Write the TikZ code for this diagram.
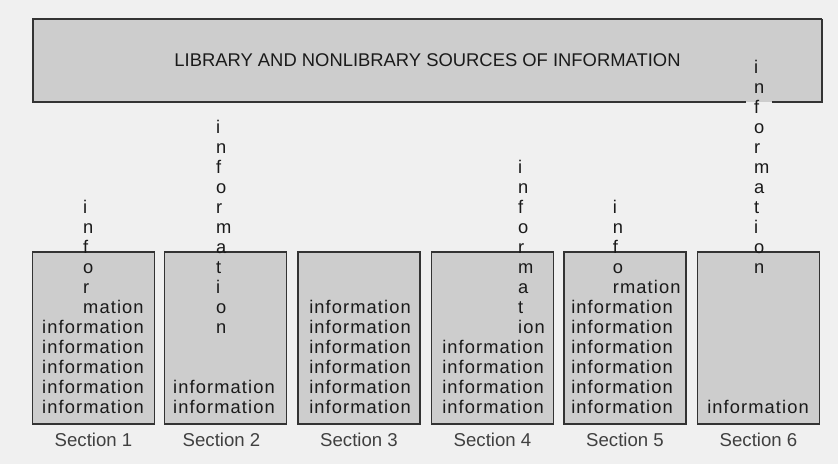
\documentclass[tikz,border=0pt]{standalone}
\usepackage{fontspec}
\setmainfont{Liberation Sans}
\newfontfamily\infofont[LetterSpace=6]{Liberation Sans}
\usetikzlibrary{positioning}
\definecolor{paper}{HTML}{F0F0F0}
\definecolor{shelf}{HTML}{CDCDCD}
\definecolor{rim}{HTML}{333333}
\definecolor{ink}{HTML}{1A1A1A}
\definecolor{caption}{HTML}{404040}
\tikzset{
  topbox/.style={
    fill=shelf,
    minimum width=789pt,
    minimum height=83pt,
    inner sep=0pt,
    font=\fontsize{18.4}{20}\selectfont,
    text=ink
  },
  rimline/.style={draw=rim, line width=1.5pt},
  secbox/.style={
    draw=rim,
    fill=shelf,
    line width=1.5pt,
    minimum width=122pt,
    minimum height=172pt,
    inner sep=0pt
  },
  inforow/.style={font=\infofont\fontsize{18.3}{20}\selectfont, text=ink, inner sep=0pt, anchor=base},
  stackletter/.style={inforow, anchor=base west},
  seclabel/.style={font=\fontsize{18.6}{20}\selectfont, text=caption, inner sep=0pt, anchor=base}
}
% full rows, counted from the bottom of a section
\newcommand{\inforows}[3]{%
  \foreach \k in {1,...,#3} {
    \node[inforow] (#1r\k) at (#2,{433-20*\k}) {information};
  }
}
% falling word: rest of the row, then its letters upwards
\newcommand{\infostack}[4]{%
  \foreach \ch [count=\i from #3] in {#4} {
    \node[stackletter] (#1c\i) at (#2,{433-20*\i}) {\ch};
  }
}

\begin{document}
\begin{tikzpicture}[x=1pt,y=-1pt]
\useasboundingbox (0,0) rectangle (838,464);
\fill[paper] (0,0) rectangle (838,464);

\node[topbox] (sources) at (427.5,60.5) {LIBRARY AND NONLIBRARY SOURCES OF INFORMATION};
\coordinate (gapL) at (746,102);
\coordinate (gapR) at (772,102);
\draw[rimline] (gapL) -| (sources.north west) -- (sources.north east);
\draw[rimline] (sources.north east) |- (gapR);

\node[secbox] (sec1) at (93.5,338) {};
\node[secbox] (sec2) at (225.5,338) {};
\node[secbox] (sec3) at (359,338) {};
\node[secbox] (sec4) at (492.5,338) {};
\node[secbox] (sec5) at (625,338) {};
\node[secbox] (sec6) at (758.5,338) {};

\node[seclabel] (lab1) at ([yshift=-21.7pt]sec1.south) {Section 1};
\node[seclabel] (lab2) at ([xshift=-4pt,yshift=-21.7pt]sec2.south) {Section 2};
\node[seclabel] (lab3) at ([yshift=-21.7pt]sec3.south) {Section 3};
\node[seclabel] (lab4) at ([yshift=-21.7pt]sec4.south) {Section 4};
\node[seclabel] (lab5) at ([yshift=-21.7pt]sec5.south) {Section 5};
\node[seclabel] (lab6) at ([yshift=-21.7pt]sec6.south) {Section 6};

\inforows{s1}{93}{5}
\infostack{s1}{83}{6}{mation,r,o,f,n,i}

\inforows{s2}{224}{2}
\infostack{s2}{216}{5}{n,o,i,t,a,m,r,o,f,n,i}

\inforows{s3}{360}{6}

\inforows{s4}{493}{4}
\infostack{s4}{518}{5}{ion,t,a,m,r,o,f,n,i}

\inforows{s5}{622}{6}
\infostack{s5}{612.7}{7}{rmation,o,f,n,i}

\inforows{s6}{758}{1}
\infostack{s6}{754}{8}{n,o,i,t,a,m,r,o,f,n,i}

\end{tikzpicture}
\end{document}
